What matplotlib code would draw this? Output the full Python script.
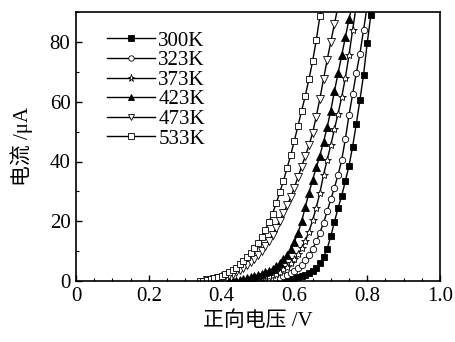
import matplotlib
matplotlib.use('Agg')
import matplotlib.pyplot as plt
from matplotlib.ticker import MultipleLocator

############## - Data - #######################################
labels = ['300K', '323K', '373K', '423K', '473K', '533K']

v_300 = [0.50, 0.51, 0.52, 0.53, 0.54, 0.55, 0.56, 0.57, 0.58, 0.59, 0.60, 0.61, 0.62, 0.63, 0.64, 0.65, 0.66,
         0.67, 0.68, 0.69, 0.70, 0.71, 0.72, 0.73, 0.74, 0.75, 0.76, 0.77, 0.78, 0.79, 0.80, 0.81, 0.82]
i_300 = [0.05, 0.1, 0.1, 0.15, 0.2, 0.25, 0.3, 0.4, 0.6, 0.8, 1.0, 1.3, 1.7, 2.2, 2.8, 3.5, 4.5,
         5.9, 8.0, 10.8, 15.0, 19.8, 24.5, 28.5, 33.5, 38.5, 45.0, 52.5, 60.5, 69.0, 79.5, 89.0, 98.0]

v_323 = [0.48, 0.49, 0.50, 0.51, 0.52, 0.53, 0.54, 0.55, 0.56, 0.57, 0.58, 0.59, 0.60, 0.61, 0.62, 0.63, 0.64,
         0.65, 0.66, 0.67, 0.68, 0.69, 0.70, 0.71, 0.72, 0.73, 0.74, 0.75, 0.76, 0.77, 0.78, 0.79, 0.80]
i_323 = [0.1, 0.15, 0.2, 0.3, 0.4, 0.5, 0.7, 0.9, 1.2, 1.6, 2.1, 2.7, 3.4, 4.3, 5.5, 7.0, 8.8,
         10.8, 13.3, 16.2, 19.5, 23.3, 27.3, 31.3, 35.5, 40.5, 47.5, 55.5, 62.5, 69.5, 76.0, 84.0, 92.0]

v_373 = [0.44, 0.45, 0.46, 0.47, 0.48, 0.49, 0.50, 0.51, 0.52, 0.53, 0.54, 0.55, 0.56, 0.57, 0.58, 0.59, 0.60,
         0.61, 0.62, 0.63, 0.64, 0.65, 0.66, 0.67, 0.68, 0.69, 0.70, 0.71, 0.72, 0.73, 0.74, 0.75, 0.76, 0.77]
i_373 = [0.1, 0.15, 0.2, 0.3, 0.5, 0.7, 0.9, 1.1, 1.3, 1.6, 2.0, 2.5, 3.1, 3.9, 4.8, 5.9, 7.3,
         9.0, 11.0, 13.5, 16.5, 20.3, 24.5, 29.5, 35.5, 40.5, 45.5, 50.8, 56.0, 61.5, 68.0, 75.5, 84.0, 92.0]

v_423 = [0.42, 0.43, 0.44, 0.45, 0.46, 0.47, 0.48, 0.49, 0.50, 0.51, 0.52, 0.53, 0.54, 0.55, 0.56, 0.57, 0.58,
         0.59, 0.60, 0.61, 0.62, 0.63, 0.64, 0.65, 0.66, 0.67, 0.68, 0.69, 0.70, 0.71, 0.72, 0.73, 0.74, 0.75, 0.76]
i_423 = [0.1, 0.15, 0.2, 0.4, 0.6, 0.9, 1.3, 1.7, 2.1, 2.5, 3.0, 3.5, 4.1, 5.0, 6.0, 7.3, 8.8,
         10.8, 13.2, 16.2, 20.0, 24.8, 29.5, 33.8, 38.0, 42.0, 46.5, 51.5, 57.0, 63.5, 69.5, 75.5, 81.5, 87.5, 93.0]

v_473 = [0.36, 0.37, 0.38, 0.39, 0.40, 0.41, 0.42, 0.43, 0.44, 0.45, 0.46, 0.47, 0.48, 0.49, 0.50, 0.51, 0.52,
         0.53, 0.54, 0.55, 0.56, 0.57, 0.58, 0.59, 0.60, 0.61, 0.62, 0.63, 0.64, 0.65, 0.66, 0.67, 0.68, 0.69,
         0.70, 0.71, 0.72]
i_473 = [0.25, 0.4, 0.6, 0.9, 1.2, 1.6, 2.0, 2.5, 3.0, 3.7, 4.5, 5.4, 6.4, 7.5, 8.7, 10.1, 11.7,
         13.5, 15.5, 17.8, 20.2, 22.8, 25.3, 28.0, 31.3, 34.8, 38.3, 41.8, 45.4, 49.5, 55.0, 61.0, 67.5, 74.0,
         80.0, 86.0, 92.0]

v_533 = [0.34, 0.35, 0.36, 0.37, 0.38, 0.39, 0.40, 0.41, 0.42, 0.43, 0.44, 0.45, 0.46, 0.47, 0.48, 0.49, 0.50,
         0.51, 0.52, 0.53, 0.54, 0.55, 0.56, 0.57, 0.58, 0.59, 0.60, 0.61, 0.62, 0.63, 0.64, 0.65, 0.66, 0.67, 0.68]
i_533 = [0.1, 0.2, 0.4, 0.7, 1.0, 1.4, 1.8, 2.3, 2.9, 3.6, 4.4, 5.6, 6.8, 8.1, 9.5, 11.1, 12.9,
         14.9, 17.1, 19.7, 22.6, 26.0, 29.7, 33.6, 37.8, 42.2, 47.0, 52.0, 57.0, 62.0, 67.5, 73.5, 80.5, 88.5, 96.0]

x_ticks = [0, 0.2, 0.4, 0.6, 0.8, 1.0]
x_tick_labels = ['0', '0.2', '0.4', '0.6', '0.8', '1.0']
y_ticks = [0, 20, 40, 60, 80]

############## - Styling - ##################
serif = ['Liberation Serif', 'DejaVu Serif']
cjk = ['Liberation Serif', 'Noto Sans CJK SC', 'DejaVu Sans']
plt.rcParams['font.family'] = serif

series = [(v_300, i_300, 's', 'black'),
          (v_323, i_323, 'o', 'white'),
          (v_373, i_373, '*', 'white'),
          (v_423, i_423, '^', 'black'),
          (v_473, i_473, 'v', 'white'),
          (v_533, i_533, 's', 'white')]
sizes = {'s': 4.4, 'o': 4.6, '*': 6.0, '^': 5.2, 'v': 5.2}

fig = plt.figure(figsize=(4.55, 3.42), dpi=100)
ax = fig.add_axes([0.167, 0.178, 0.800, 0.787])

for (v, i, m, fc), lab in zip(series, labels):
    ax.plot(v, i, color='black', lw=1.0, marker=m, ms=sizes[m], mfc=fc, mec='black',
            mew=0.6, label=lab)

ax.set_xlim(0, 1.0)
ax.set_ylim(0, 90)
ax.set_xticks(x_ticks)
ax.set_xticklabels(x_tick_labels)
ax.xaxis.set_minor_locator(MultipleLocator(0.05))
ax.set_yticks(y_ticks)
ax.yaxis.set_minor_locator(MultipleLocator(10))
ax.tick_params(which='major', direction='in', length=4, width=1.0, labelsize=15, pad=4)
ax.tick_params(which='minor', direction='in', length=2.5, width=0.8)
for s in ax.spines.values():
    s.set_linewidth(1.2)

ax.set_xlabel('正向电压 /V', family=cjk, fontsize=15, labelpad=4)
ax.set_ylabel('电流 /μA', family=cjk, fontsize=15, labelpad=12)

leg = ax.legend(loc='upper left', bbox_to_anchor=(0.063, 0.96), frameon=False, fontsize=15,
                handlelength=2.3, handletextpad=0.15, labelspacing=0.0, numpoints=1,
                borderaxespad=0.0, markerscale=0.85)

fig.savefig('out.png', dpi=100)
